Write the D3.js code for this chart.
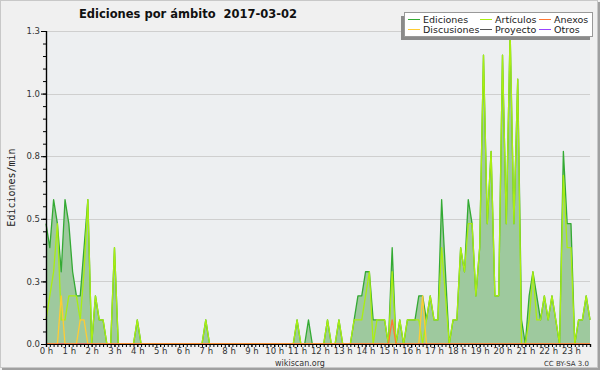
<!DOCTYPE html>
<html><head><meta charset="utf-8">
<script src="https://cdn.jsdelivr.net/npm/d3@7/dist/d3.min.js"></script>
<style>body{margin:0;background:#f0f0f0}svg{display:block}</style>
</head><body><div id="chart"></div>
<script>
// 10-minute bins, 6 per hour (00:00 .. 23:50)
const ediciones = [
 0.5,0.4,0.6,0.5,0.3,0.6,  0.5,0.3,0.2,0.2,0.4,0.6,  0,0.2,0.1,0.1,0,0,  0.4,0,0,0,0,0,
 0.1,0,0,0,0,0,  0,0,0,0,0,0,  0,0,0,0,0,0,  0.1,0,0,0,0,0,
 0,0,0,0,0,0,  0,0,0,0,0,0,  0,0,0,0,0,0,  0.1,0,0,0.1,0,0,
 0,0,0.1,0,0,0.1,  0,0,0,0.1,0.2,0.2,  0.3,0.3,0.1,0.1,0.1,0.1,  0,0.4,0,0.1,0,0.1,
 0.1,0.1,0.2,0.2,0.1,0.2,  0.1,0.1,0.6,0.3,0,0.1,  0.1,0.4,0.3,0.6,0.5,0.2,  0.4,1.2,0.5,0.8,0.2,0.2,
 1.2,0.5,1.3,0.5,1.1,0.1,  0,0.2,0.3,0.2,0.1,0.2,  0.1,0.2,0.1,0,0.8,0.5,  0.5,0,0.1,0.1,0.2,0.1
];
const articulos = [
 0.1,0.2,0.3,0.5,0.1,0.1,  0.2,0.2,0.2,0.1,0.3,0.6,  0,0.2,0.1,0.1,0,0,  0.4,0,0,0,0,0,
 0.1,0,0,0,0,0,  0,0,0,0,0,0,  0,0,0,0,0,0,  0.1,0,0,0,0,0,
 0,0,0,0,0,0,  0,0,0,0,0,0,  0,0,0,0,0,0,  0.1,0,0,0,0,0,
 0,0,0.1,0,0,0.1,  0,0,0,0.1,0.1,0.1,  0.2,0.3,0,0.1,0.1,0.1,  0,0.3,0,0.1,0,0.1,
 0.1,0.1,0.1,0,0.1,0.2,  0.1,0.1,0.4,0.2,0,0.1,  0.1,0.4,0.3,0.5,0.5,0.2,  0.4,1.2,0.5,0.8,0.2,0.2,
 1.2,0.5,1.3,0.5,1.1,0,  0,0.1,0.3,0.1,0.1,0.2,  0.1,0.2,0.1,0,0.7,0.4,  0.4,0,0.1,0.1,0.2,0.1
];
const discusiones = [
 0,0,0,0,0.2,0,  0,0,0,0.1,0.1,0,  0,0,0,0,0,0,  0,0,0,0,0,0,
 0,0,0,0,0,0,  0,0,0,0,0,0,  0,0,0,0,0,0,  0,0,0,0,0,0,
 0,0,0,0,0,0,  0,0,0,0,0,0,  0,0,0,0,0,0,  0,0,0,0,0,0,
 0,0,0,0,0,0,  0,0,0,0,0,0,  0,0,0,0,0,0,  0,0,0,0,0,0,
 0,0,0,0.2,0,0,  0,0,0,0,0,0,  0,0,0,0,0,0,  0,0,0,0,0,0,
 0,0,0,0,0,0,  0,0,0,0,0,0,  0,0,0,0,0,0,  0,0,0,0,0,0
];
const anexos = [
 0,0,0,0,0,0,  0,0,0,0,0,0,  0,0,0,0,0,0,  0,0,0,0,0,0,
 0,0,0,0,0,0,  0,0,0,0,0,0,  0,0,0,0,0,0,  0,0,0,0,0,0,
 0,0,0,0,0,0,  0,0,0,0,0,0,  0,0,0,0,0,0,  0,0,0,0,0,0,
 0,0,0,0,0,0,  0,0,0,0,0,0,  0,0,0,0,0,0,  0,0.1,0,0,0,0,
 0,0,0,0,0,0,  0,0,0,0,0,0,  0,0,0,0,0,0,  0,0,0,0,0,0,
 0,0,0,0,0,0,  0,0,0,0,0,0,  0,0,0,0,0,0,  0,0,0,0,0,0
];
const proyecto = new Array(144).fill(0);
const otros = new Array(144).fill(0);

const hourLabels = ["0 h","1 h","2 h","3 h","4 h","5 h","6 h","7 h","8 h","9 h","10 h","11 h",
  "12 h","13 h","14 h","15 h","16 h","17 h","18 h","19 h","20 h","21 h","22 h","23 h"];
const yTicks = [0, 0.26, 0.52, 0.78, 1.04, 1.3];
const yMinorStep = 0.052;
const legendItems = [
  {name:"Ediciones", color:"#33aa33"},
  {name:"Discusiones", color:"#ffcc33"},
  {name:"Artículos", color:"#aaee11"},
  {name:"Proyecto", color:"#555555"},
  {name:"Anexos", color:"#ff7733"},
  {name:"Otros", color:"#9944ff"}
];

const W = 600, H = 370;
const L = 46, R = 590, T = 31, B = 344;
const svg = d3.select("#chart").append("svg").attr("width", W).attr("height", H);

// frame
svg.append("rect").attr("x",0).attr("y",0).attr("width",W).attr("height",H).attr("fill","#f0f0f0");
svg.append("rect").attr("x",0.5).attr("y",0.5).attr("width",W-3).attr("height",H-3)
  .attr("fill","none").attr("stroke","#c8c8c8");
svg.append("rect").attr("x",W-2).attr("y",2).attr("width",2).attr("height",H-2).attr("fill","#a0a0a0");
svg.append("rect").attr("x",2).attr("y",H-2).attr("width",W-2).attr("height",2).attr("fill","#a0a0a0");

// plot background
svg.append("rect").attr("x",L).attr("y",T).attr("width",R-L).attr("height",B-T).attr("fill","#edeff1");

const x = d3.scaleLinear().domain([0, 143]).range([L, R]);
const y = d3.scaleLinear().domain([0, 1.3]).range([B, T]);

// grid
svg.append("g").selectAll("line").data(yTicks.slice(1)).join("line")
  .attr("x1",L).attr("x2",R).attr("y1",d=>Math.round(y(d))+0.5).attr("y2",d=>Math.round(y(d))+0.5)
  .attr("stroke","#cfcfcf").attr("stroke-width",1);

// area
svg.append("path").datum(ediciones)
  .attr("d", d3.area().x((d,i)=>x(i)).y0(B).y1(d=>y(d)))
  .attr("fill","#9ec99e");

const line = d3.line().x((d,i)=>x(i)).y(d=>y(d));
const series = [
  {data:proyecto, color:"#555555"},
  {data:otros, color:"#9944ff"},
  {data:ediciones, color:"#33aa33"},
  {data:articulos, color:"#aaee11"},
  {data:discusiones, color:"#ffcc33"},
  {data:anexos, color:"#ff7733"}
];
series.forEach(s=>{
  svg.append("path").datum(s.data).attr("d", line)
    .attr("fill","none").attr("stroke",s.color).attr("stroke-width",1.3).attr("stroke-linejoin","round");
});

// axes
const fontFam = "'DejaVu Sans', sans-serif";
const xMinor = svg.append("g").attr("transform",`translate(0,${B})`)
  .call(d3.axisBottom(x).tickValues(d3.range(0,144)).tickSize(3).tickFormat(""));
const xMajor = svg.append("g").attr("transform",`translate(0,${B})`)
  .call(d3.axisBottom(x).tickValues(hourLabels.map((h,i)=>i*6)).tickSize(3)
    .tickFormat((d,i)=>hourLabels[i]).tickPadding(1));
const yMinor = svg.append("g").attr("transform",`translate(${L},0)`)
  .call(d3.axisLeft(y).tickValues(d3.range(0,26).map(k=>k*yMinorStep)).tickSize(3).tickFormat(""));
const yMajor = svg.append("g").attr("transform",`translate(${L},0)`)
  .call(d3.axisLeft(y).tickValues(yTicks).tickSize(5).tickFormat(d3.format(".1f")).tickPadding(1));
[xMinor,xMajor,yMinor,yMajor].forEach(g=>{
  g.selectAll(".domain").attr("stroke","#000").attr("stroke-width",1.2);
  g.selectAll(".tick line").attr("stroke","#000");
  g.selectAll("text").attr("font-family",fontFam).attr("fill","#333");
});
xMajor.selectAll("text").attr("font-size",8.5);
yMajor.selectAll("text").attr("font-size",8.5);

// titles
svg.append("text").attr("x",188).attr("y",18).attr("text-anchor","middle")
  .attr("font-family",fontFam).attr("font-weight","bold").attr("font-size",11.5).attr("fill","#111")
  .style("white-space","pre")
  .text("Ediciones por ámbito  2017-03-02");
svg.append("text").attr("transform",`translate(15,${(T+B)/2}) rotate(-90)`).attr("text-anchor","middle")
  .attr("font-family","'DejaVu Sans Mono', monospace").attr("font-size",10).attr("fill","#222")
  .text("Ediciones/min");
svg.append("text").attr("x",300).attr("y",366).attr("text-anchor","middle")
  .attr("font-family",fontFam).attr("font-size",8).attr("fill","#333").text("wikiscan.org");
svg.append("text").attr("x",589).attr("y",366).attr("text-anchor","end")
  .attr("font-family",fontFam).attr("font-size",7).attr("fill","#333").text("CC BY-SA 3.0");

// legend
const lg = svg.append("g");
lg.append("rect").attr("x",401).attr("y",16).attr("width",189).attr("height",24).attr("fill","#8a8a8a");
lg.append("rect").attr("x",404.5).attr("y",12.5).attr("width",188).attr("height",24)
  .attr("fill","#fff").attr("stroke","#999");
const cols = [408, 480, 539];
legendItems.forEach((d,i)=>{
  const cx = cols[Math.floor(i/2)], cy = i%2===0 ? 19.5 : 29.5;
  lg.append("line").attr("x1",cx).attr("x2",cx+12).attr("y1",cy).attr("y2",cy)
    .attr("stroke",d.color).attr("stroke-width",1);
  lg.append("text").attr("x",cx+15).attr("y",cy+3.5).attr("font-family",fontFam)
    .attr("font-size",9.5).attr("fill","#222").text(d.name);
});
</script></body></html>
